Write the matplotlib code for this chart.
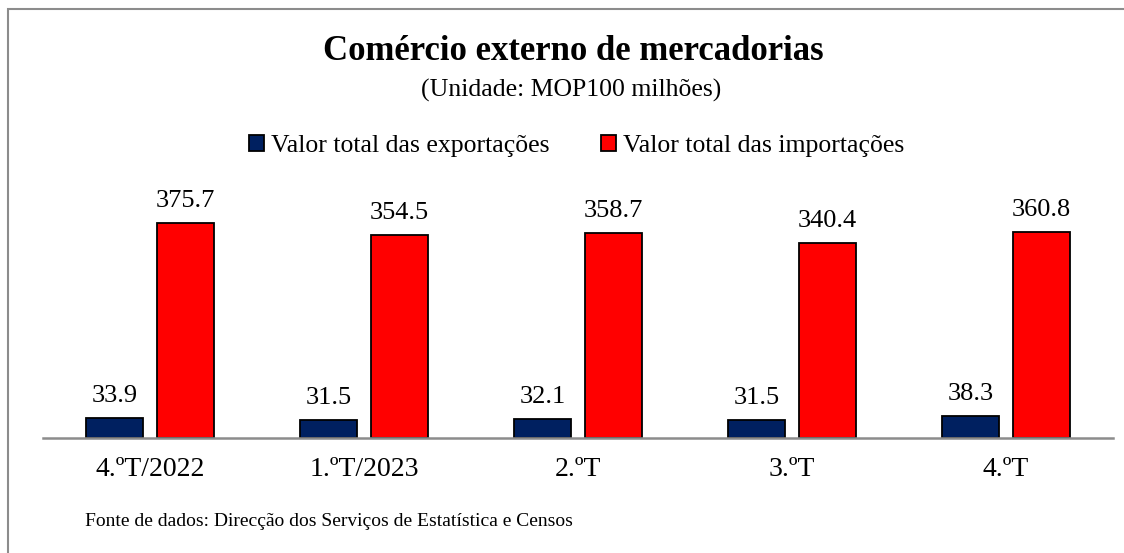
import matplotlib.pyplot as plt
from matplotlib.patches import Rectangle, Patch

plt.rcParams['font.family'] = ['Liberation Serif', 'DejaVu Serif']

trimestres = ['4.ºT/2022', '1.ºT/2023', '2.ºT', '3.ºT', '4.ºT']
exportacoes = [33.9, 31.5, 32.1, 31.5, 38.3]
importacoes = [375.7, 354.5, 358.7, 340.4, 360.8]

cor_exp = '#002060'
cor_imp = '#FF0000'

fig = plt.figure(figsize=(11.24, 5.53), dpi=100)

# moldura cinzenta
fig.patches.append(Rectangle((8 / 1124, -0.05), 1.2, (553 - 9) / 553 + 0.05,
                             transform=fig.transFigure, fill=False,
                             edgecolor='#8c8c8c', linewidth=1.5))

ax = fig.add_axes([43 / 1124, 115.3 / 553, 1070 / 1124, 228.3 / 553])

x = list(range(len(trimestres)))
largura = 0.269
desloc = 0.166

b1 = ax.bar([i - desloc for i in x], exportacoes, largura, color=cor_exp,
            edgecolor='black', linewidth=1.3)
b2 = ax.bar([i + desloc for i in x], importacoes, largura, color=cor_imp,
            edgecolor='black', linewidth=1.3)

for barras, valores in [(b1, exportacoes), (b2, importacoes)]:
    for b, v in zip(barras, valores):
        ax.annotate(f'{v:.1f}', (b.get_x() + b.get_width() / 2, v),
                    xytext=(0, 8), textcoords='offset points',
                    ha='center', va='bottom', fontsize=19, annotation_clip=False)

ax.set_xlim(-0.5, len(trimestres) - 0.5)
ax.set_ylim(0, 400)
ax.set_xticks(x)
ax.set_xticklabels(trimestres, fontsize=20)
ax.tick_params(axis='x', length=0, pad=14)
ax.set_yticks([])
for s in ['top', 'right', 'left']:
    ax.spines[s].set_visible(False)
ax.spines['bottom'].set_color('#8c8c8c')
ax.spines['bottom'].set_linewidth(1.8)

fig.text(0.51, 1 - 52 / 553, 'Comércio externo de mercadorias', ha='center',
         va='center', fontsize=25, fontweight='bold')
fig.text(0.508, 1 - 90 / 553, '(Unidade: MOP100 milhões)', ha='center',
         va='center', fontsize=18.5)

handles = [Patch(facecolor=cor_exp, edgecolor='black', linewidth=1.3),
           Patch(facecolor=cor_imp, edgecolor='black', linewidth=1.3)]
fig.legend(handles, ['Valor total das exportações', 'Valor total das importações'],
           loc='center', bbox_to_anchor=(0.513, 1 - 146 / 553), ncol=2,
           frameon=False, fontsize=18.5, handlelength=0.58, handleheight=0.58,
           handletextpad=0.27, columnspacing=2.0)

fig.text(85 / 1124, 1 - 522 / 553,
         'Fonte de dados: Direcção dos Serviços de Estatística e Censos',
         ha='left', va='center', fontsize=14)

fig.savefig('out.png', dpi=100)
